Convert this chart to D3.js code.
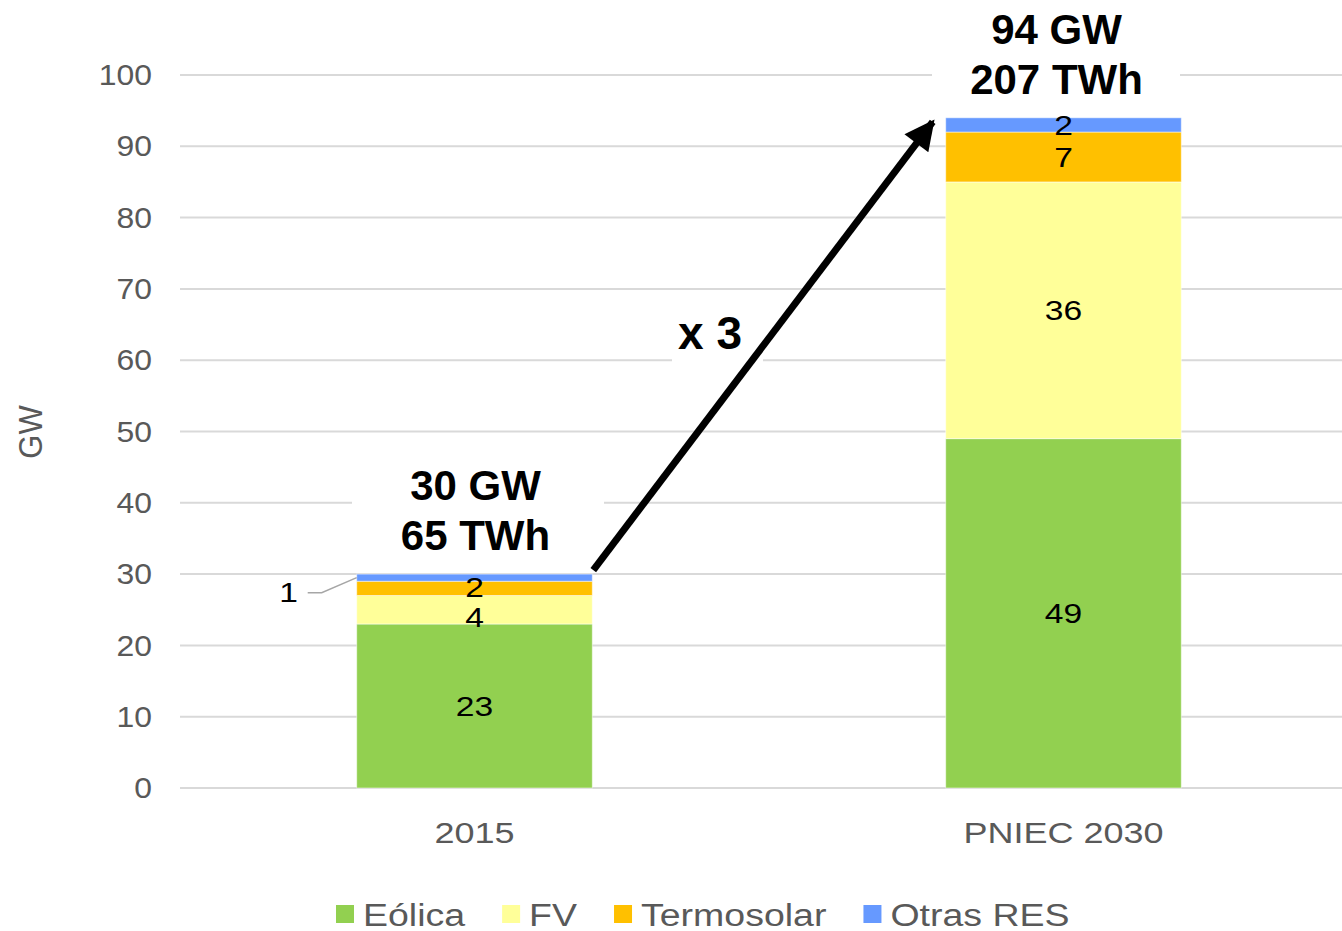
<!DOCTYPE html>
<html>
<head>
<meta charset="utf-8">
<script src="https://cdn.jsdelivr.net/npm/d3@7"></script>
<style>
  html, body { margin: 0; padding: 0; background: #fff; }
  svg { display: block; font-family: Arial, "Liberation Sans", sans-serif; }
</style>
</head>
<body>
<svg id="chart" width="1342" height="931"></svg>
<script>
// Renewable capacity (GW) by technology
const categories = ["2015", "PNIEC 2030"];
const series = ["Eólica", "FV", "Termosolar", "Otras RES"];
const eolica = [23, 49];
const fv = [4, 36];
const termosolar = [2, 7];
const otras = [1, 2];
const colors = ["#92D050", "#FFFF99", "#FFC000", "#6699FF"];
const yTicks = [0, 10, 20, 30, 40, 50, 60, 70, 80, 90, 100];
const totalsGW = [30, 94];
const totalsTWh = [65, 207];
const growthLabel = "x 3";

const SX = 1.2;          // horizontal stretch of chart text
const GRAY = "#595959";

const svg = d3.select("#chart");
const x = d3.scaleBand().domain(categories).range([180, 1358]).paddingInner(0.6).paddingOuter(0.3);
const y = d3.scaleLinear().domain([0, 100]).range([788, 75]);

const rows = categories.map((c, i) => ({
  cat: c, "Eólica": eolica[i], "FV": fv[i], "Termosolar": termosolar[i], "Otras RES": otras[i]
}));
const stack = d3.stack().keys(series)(rows);

function stretchedText(g, tx, ty, str, opts) {
  const t = g.append("text")
    .attr("transform", `translate(${tx},${ty}) scale(${opts.sx || SX},1)${opts.rotate ? " rotate(" + opts.rotate + ")" : ""}`)
    .attr("text-anchor", opts.anchor || "middle")
    .attr("font-size", opts.size)
    .attr("font-weight", opts.weight || "normal")
    .attr("fill", opts.fill || "#000")
    .text(str);
  if (opts.dy) t.attr("dy", opts.dy);
  return t;
}

// gridlines
svg.append("g").selectAll("line").data(yTicks).join("line")
  .attr("x1", 180).attr("x2", 1342)
  .attr("y1", d => y(d)).attr("y2", d => y(d))
  .attr("stroke", "#D9D9D9").attr("stroke-width", 2);

// tick labels
const tl = svg.append("g");
yTicks.forEach(d => stretchedText(tl, 152, y(d), d, { anchor: "end", size: 29, fill: GRAY, dy: "0.35em", sx: 1.1 }));

// axis title
stretchedText(svg, 42, 432, "GW", { size: 31, fill: GRAY, rotate: -90, sx: 1.1 });

// white backdrops behind the overlay annotations
const boxes = svg.append("g").attr("fill", "#fff");
boxes.append("rect").attr("x", 352).attr("y", 460).attr("width", 252).attr("height", 100);
boxes.append("rect").attr("x", 932).attr("y", 0).attr("width", 248).attr("height", 104);
boxes.append("rect").attr("x", 672).attr("y", 306).attr("width", 91).attr("height", 58);

// stacked bars
svg.append("g").selectAll("g").data(stack).join("g")
  .attr("fill", (d, i) => colors[i])
  .selectAll("rect").data(d => d).join("rect")
  .attr("x", d => x(d.data.cat))
  .attr("width", x.bandwidth())
  .attr("y", d => y(d[1]))
  .attr("height", d => y(d[0]) - y(d[1]))
  .attr("stroke", "#fff").attr("stroke-opacity", 0.5).attr("stroke-width", 1);

// segment value labels
const vl = svg.append("g");
stack.forEach((layer, si) => {
  layer.forEach((d, ci) => {
    const v = d[1] - d[0];
    const cx = x(d.data.cat) + x.bandwidth() / 2;
    if (ci === 0 && si === 3) {
      // small segment: label outside with leader line
      const ym = y((d[0] + d[1]) / 2);
      const lx = x(d.data.cat);
      svg.append("polyline")
        .attr("points", `${lx - 49},${ym + 15} ${lx - 35},${ym + 15} ${lx},${ym}`)
        .attr("fill", "none").attr("stroke", "#A6A6A6").attr("stroke-width", 1.5);
      stretchedText(vl, lx - 68, ym + 15, v, { size: 28, dy: "0.35em" });
    } else {
      let ym = y((d[0] + d[1]) / 2);
      if (ci === 0 && si === 1) ym += 7;
      if (ci === 0 && si === 2) ym -= 1;
      stretchedText(vl, cx, ym, v, { size: 28, dy: "0.35em" });
    }
  });
});

// category labels
categories.forEach(c => stretchedText(svg, x(c) + x.bandwidth() / 2, 843, c, { size: 30, fill: GRAY }));

// totals above bars
const tot = svg.append("g");
categories.forEach((c, i) => {
  const cx = x(c) + x.bandwidth() / 2 + (i ? -7 : 1);
  const top = y(totalsGW[i]);
  tot.append("text").attr("x", cx).attr("y", top - 74)
    .attr("text-anchor", "middle").attr("font-size", 42).attr("font-weight", "bold")
    .text(`${totalsGW[i]} GW`);
  tot.append("text").attr("x", cx).attr("y", top - 24)
    .attr("text-anchor", "middle").attr("font-size", 42).attr("font-weight", "bold")
    .text(`${totalsTWh[i]} TWh`);
});

// growth arrow between the two bars
const defs = svg.append("defs");
defs.append("marker").attr("id", "arrowhead")
  .attr("viewBox", "0 0 10 10").attr("refX", 9).attr("refY", 5)
  .attr("markerUnits", "userSpaceOnUse").attr("markerWidth", 32).attr("markerHeight", 30)
  .attr("orient", "auto")
  .append("path").attr("d", "M0,0 L10,5 L0,10 Z").attr("fill", "#000");

const x0 = x(categories[0]) + x.bandwidth() + 1, y0 = y(totalsGW[0]) - 4;
const x1 = x(categories[1]) - 13, y1 = y(totalsGW[1]) + 4;
svg.append("line")
  .attr("x1", x0).attr("y1", y0).attr("x2", x1).attr("y2", y1)
  .attr("stroke", "#000").attr("stroke-width", 7)
  .attr("marker-end", "url(#arrowhead)");

svg.append("text").attr("x", 710).attr("y", 349).attr("text-anchor", "middle")
  .attr("font-size", 46).attr("font-weight", "bold").text(growthLabel);

// legend
const lg = svg.append("g");
const LSX = 1.21;
let lx = 336;
series.forEach((s, i) => {
  lg.append("rect").attr("x", lx).attr("y", 905).attr("width", 18).attr("height", 18).attr("fill", colors[i]);
  const t = stretchedText(lg, lx + 27, 926, s, { anchor: "start", size: 31, fill: GRAY, sx: LSX });
  lx += 27 + t.node().getComputedTextLength() * LSX + 37;
});
</script>
</body>
</html>
